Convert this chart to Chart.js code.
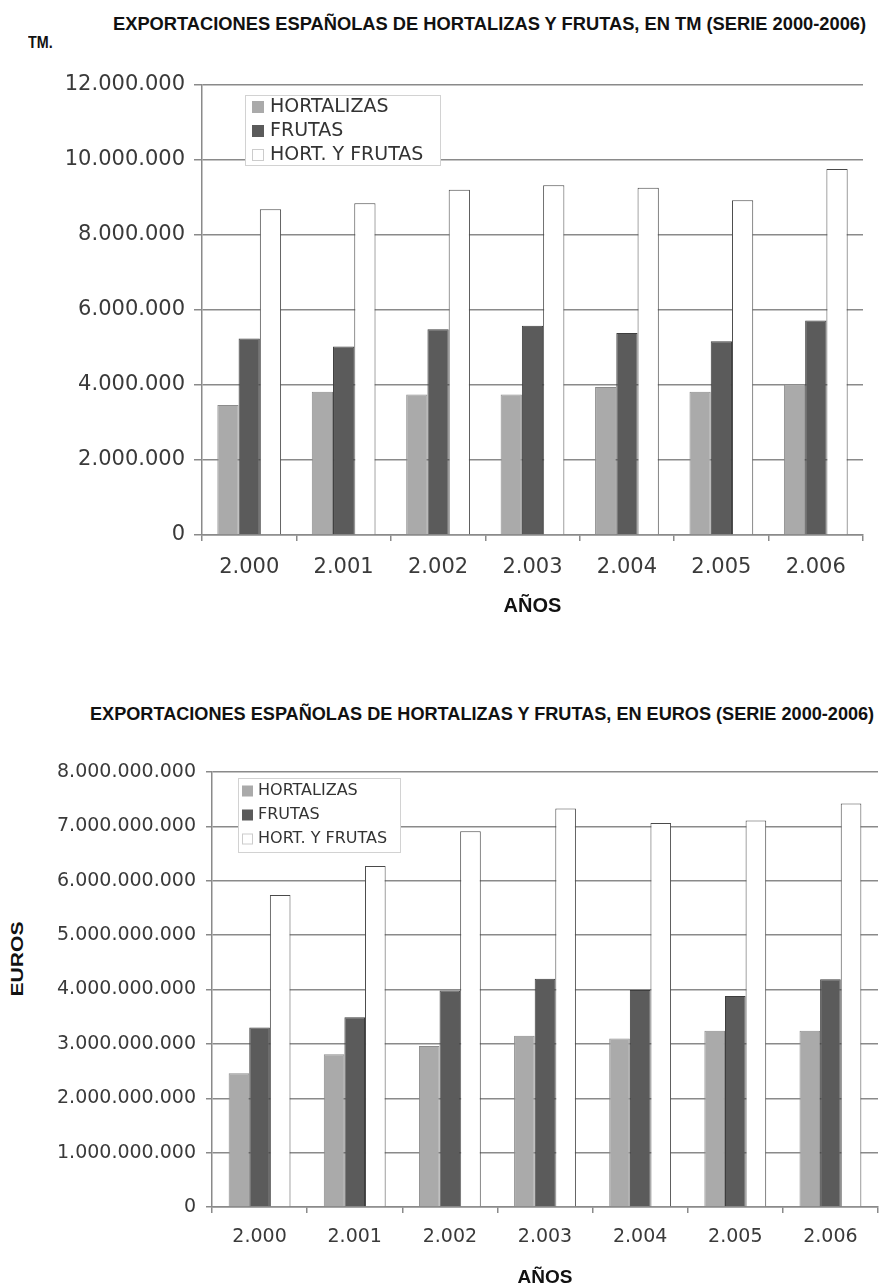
<!DOCTYPE html>
<html>
<head>
<meta charset="utf-8">
<script src="https://cdn.jsdelivr.net/npm/chart.js@4.4.1/dist/chart.umd.min.js"></script>
<style>
  body { margin: 0; background: #fff; overflow: hidden; }
  canvas { position: absolute; left: 0; }
  .txt { position: absolute; white-space: nowrap; font-family: "Liberation Sans Narrow", "Liberation Sans", Arial, sans-serif; font-weight: bold; line-height: 1; color: #111; transform-origin: left center; }
</style>
</head>
<body>
<div class="txt" id="title1" style="left:113px; top:15px; font-size:18px;">EXPORTACIONES ESPAÑOLAS DE HORTALIZAS Y FRUTAS, EN TM (SERIE 2000-2006)</div>
<div class="txt" id="tm" style="left:28px; top:35px; font-size:16px;">TM.</div>
<div class="txt" id="title2" style="left:90px; top:705px; font-size:18px;">EXPORTACIONES ESPAÑOLAS DE HORTALIZAS Y FRUTAS, EN EUROS (SERIE 2000-2006)</div>
<div class="txt" id="euros" style="left:18px; top:959px; font-size:16px; font-family:'Liberation Sans', Arial, sans-serif; transform-origin:center center;">EUROS</div>

<canvas id="chartTm" width="879" height="640" style="top:0"></canvas>
<canvas id="chartEur" width="879" height="627" style="top:660px"></canvas>

<script>
// data
const years = ['2.000', '2.001', '2.002', '2.003', '2.004', '2.005', '2.006'];
const seriesNames = ['HORTALIZAS', 'FRUTAS', 'HORT. Y FRUTAS'];

const hortTm  = [3470000, 3820000, 3750000, 3750000, 3950000, 3820000, 4020000];
const frutTm  = [5240000, 5030000, 5490000, 5580000, 5390000, 5170000, 5720000];
const totalTm = [8690000, 8850000, 9210000, 9330000, 9260000, 8930000, 9760000];

const hortEur  = [2460000000, 2810000000, 2960000000, 3150000000, 3100000000, 3240000000, 3240000000];
const frutEur  = [3300000000, 3490000000, 3980000000, 4200000000, 3990000000, 3880000000, 4190000000];
const totalEur = [5740000000, 6270000000, 6910000000, 7330000000, 7060000000, 7110000000, 7420000000];

const fills   = ['#aaaaaa', '#5b5b5b', '#ffffff'];
const borders = ['#8c8c8c', '#3e3e3e', '#4a4a4a'];

function dots(v) {
    return String(v).replace(/\B(?=(\d{3})+(?!\d))/g, '.');
}

// stretch the html labels to the width they have in the scan
function fitWidth(id, w, extra) {
    const el = document.getElementById(id);
    const r = w / el.offsetWidth;
    el.style.transform = (extra || '') + ' scaleX(' + r + ')';
}
fitWidth('title1', 753);
fitWidth('title2', 784);
fitWidth('tm', 25);
fitWidth('euros', 75, 'translate(-50%,-50%) rotate(-90deg)');

// legend box inside the plot, like the spreadsheet one
const legendBox = {
    id: 'legendBox',
    afterDraw(chart, args, o) {
        const {ctx, chartArea} = chart;
        const x = chartArea.left + o.x, y = chartArea.top + o.y;
        ctx.save();
        ctx.fillStyle = '#fff';
        ctx.fillRect(x, y, o.w, o.h);
        ctx.strokeStyle = '#d2d2d2';
        ctx.lineWidth = 1;
        ctx.strokeRect(x + 0.5, y + 0.5, o.w, o.h);
        ctx.font = o.font;
        ctx.textBaseline = 'middle';
        chart.data.datasets.forEach((ds, i) => {
            const cy = y + o.rows[i];
            ctx.fillStyle = ds.backgroundColor;
            ctx.fillRect(x + o.mx, cy - o.s / 2, o.s, o.s);
            if (i === 2) {
                ctx.strokeStyle = '#cccccc';
                ctx.strokeRect(x + o.mx + 0.5, cy - o.s / 2 + 0.5, o.s - 1, o.s - 1);
            }
            ctx.fillStyle = '#333';
            ctx.fillText(ds.label, x + o.tx, cy);
        });
        ctx.restore();
    }
};

function makeChart(id, vals, cfg) {
    const datasets = vals.map((v, i) => ({
        label: seriesNames[i],
        data: v,
        backgroundColor: fills[i],
        borderColor: borders[i],
        borderWidth: 1,
        categoryPercentage: cfg.catPct,
        barPercentage: 1
    }));
    return new Chart(document.getElementById(id), {
        type: 'bar',
        data: { labels: years, datasets: datasets },
        plugins: [legendBox],
        options: {
            responsive: false,
            animation: false,
            devicePixelRatio: 1,
            layout: { padding: cfg.padding },
            plugins: {
                legend: { display: false },
                tooltip: { enabled: false },
                legendBox: cfg.legend
            },
            scales: {
                x: {
                    afterFit: s => { s.height = cfg.xHeight; },
                    grid: {
                        offset: true,
                        color: c => c.index === years.length ? '#8a8a8a' : 'rgba(0,0,0,0)',
                        tickColor: '#8a8a8a',
                        tickLength: 6,
                        lineWidth: 1.5
                    },
                    border: { display: true, color: '#8a8a8a', width: 1.5 },
                    ticks: { color: '#3a3a3a', padding: cfg.xPad, font: { family: 'DejaVu Sans', size: cfg.tickSize } },
                    title: {
                        display: true,
                        text: 'AÑOS',
                        color: '#111',
                        padding: 0,
                        font: { family: 'Liberation Sans', weight: 'bold', size: cfg.titleSize, lineHeight: 1 }
                    }
                },
                y: {
                    min: 0,
                    max: cfg.max,
                    afterFit: s => { s.width = cfg.yWidth; },
                    grid: { color: '#8a8a8a', lineWidth: 1.5, tickLength: cfg.yTick, tickColor: '#8a8a8a' },
                    border: { display: true, color: '#8a8a8a', width: 1.5 },
                    ticks: {
                        stepSize: cfg.step,
                        color: '#3a3a3a',
                        padding: cfg.yPad,
                        font: { family: 'DejaVu Sans', size: cfg.tickSize },
                        callback: v => dots(v)
                    }
                }
            }
        }
    });
}

makeChart('chartTm', [hortTm, frutTm, totalTm], {
    catPct: 0.675,
    padding: { left: 0, right: 16, top: 85, bottom: 24 },
    xHeight: 81,
    yWidth: 202,
    yTick: 8,
    yPad: 9,
    xPad: 14,
    tickSize: 21,
    titleSize: 20,
    max: 12000000,
    step: 2000000,
    legend: { x: 43, y: 10, w: 195, h: 70, rows: [12, 36, 60], mx: 7, s: 12, tx: 25, font: '19px "DejaVu Sans"' }
});

makeChart('chartEur', [hortEur, frutEur, totalEur], {
    catPct: 0.65,
    padding: { left: 0, right: 1, top: 112, bottom: 0 },
    xHeight: 80,
    yWidth: 212,
    yTick: 6,
    yPad: 10,
    xPad: 13,
    tickSize: 19,
    titleSize: 19,
    max: 8000000000,
    step: 1000000000,
    legend: { x: 26, y: 6, w: 162, h: 74, rows: [13, 37, 61], mx: 4, s: 11, tx: 20, font: '16px "DejaVu Sans"' }
});
</script>
</body>
</html>
